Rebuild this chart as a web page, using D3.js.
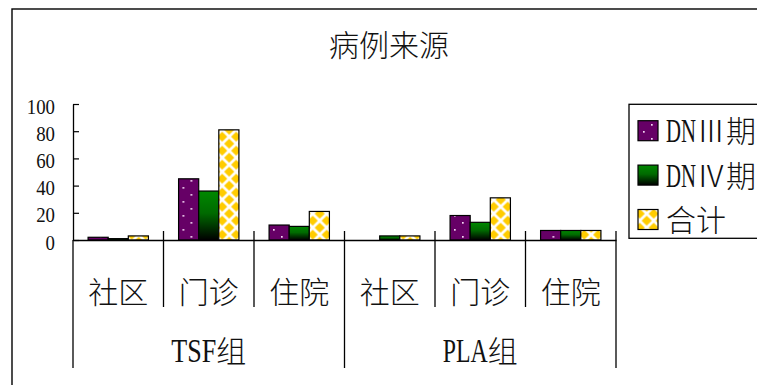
<!DOCTYPE html>
<html>
<head>
<meta charset="utf-8">
<script src="https://cdn.jsdelivr.net/npm/d3@7"></script>
<style>
  html, body { margin: 0; padding: 0; background: #fff; }
  svg { display: block; }
</style>
</head>
<body>
<svg id="chart" width="757" height="385"></svg>
<script>
// ---- data ----
const chartTitle = "病例来源";
const groups = ["TSF组", "PLA组"];
const sources = ["社区", "门诊", "住院"];
const seriesNames = ["DNⅢ期", "DNⅣ期", "合计"];
const yTicks = [0, 20, 40, 60, 80, 100];
// one value per category, ordered TSF 社区/门诊/住院 then PLA 社区/门诊/住院
const stageIII = [2, 45, 11, 0, 18, 7];
const stageIV = [1, 36, 10, 3, 13, 7];
const totals = [3, 81, 21, 3, 31, 7];

const seriesValues = [stageIII, stageIV, totals];
const categories = groups.flatMap(g => sources.map(s => g + "|" + s));
const rows = categories.map((c, i) => ({
  key: c,
  values: seriesNames.map((n, j) => ({ series: n, value: seriesValues[j][i] }))
}));

// ---- layout ----
const W = 757, H = 385;
const plot = { left: 73, right: 616, top: 104, bottom: 240 };
const CJK = "'Noto Sans CJK SC', sans-serif";
const LATIN = "'Liberation Serif', 'Times New Roman', serif";
const INK = "#111";

const svg = d3.select("#chart");
svg.append("rect").attr("width", W).attr("height", H).attr("fill", "#fff");

// ---- fills ----
const defs = svg.append("defs");

const dots = defs.append("pattern").attr("id", "fill-dots")
  .attr("patternUnits", "userSpaceOnUse").attr("width", 16).attr("height", 14)
  .attr("x", 1).attr("y", 2);
dots.append("rect").attr("width", 16).attr("height", 14).attr("fill", "#660066");
dots.append("rect").attr("x", 2).attr("y", 3).attr("width", 1.7).attr("height", 1.7).attr("fill", "#f4d8f4");
dots.append("rect").attr("x", 10).attr("y", 10).attr("width", 1.7).attr("height", 1.7).attr("fill", "#f4d8f4");

const shade = defs.append("linearGradient").attr("id", "fill-green")
  .attr("x1", 0).attr("y1", 0).attr("x2", 0).attr("y2", 1);
shade.append("stop").attr("offset", "0%").attr("stop-color", "#008800");
shade.append("stop").attr("offset", "45%").attr("stop-color", "#006a00");
shade.append("stop").attr("offset", "100%").attr("stop-color", "#000000");

const diamonds = defs.append("pattern").attr("id", "fill-diamond")
  .attr("patternUnits", "userSpaceOnUse").attr("width", 14).attr("height", 14)
  .attr("x", 9.7).attr("y", 3.7);
diamonds.append("rect").attr("width", 14).attr("height", 14).attr("fill", "#fff");
const dh = 5.1;
[[7, 7], [0, 0], [14, 0], [0, 14], [14, 14]].forEach(([cx, cy]) => {
  diamonds.append("path")
    .attr("d", `M${cx},${cy - dh}L${cx + dh},${cy}L${cx},${cy + dh}L${cx - dh},${cy}Z`)
    .attr("fill", "#ffcc00");
});

const fills = d3.scaleOrdinal().domain(seriesNames)
  .range(["url(#fill-dots)", "url(#fill-green)", "url(#fill-diamond)"]);

// Label made of full-width CJK runs and half-width Latin runs.
// Latin runs are drawn tall and squeezed to half the CJK size per character.
function mixedLabel(parent, str, x, baseline, anchor, cjkSize, latinSize) {
  const g = parent.append("g");
  const runs = str.match(/[\x00-\x7F]+|[^\x00-\x7F]+/g);
  const parts = runs.map(r => {
    const latin = /^[\x00-\x7F]+$/.test(r);
    const t = g.append("text").text(r).attr("fill", INK)
      .attr("font-family", latin ? LATIN : CJK)
      .attr("font-size", latin ? latinSize : cjkSize)
      .attr("font-weight", latin ? 400 : 300);
    const natural = t.node().getComputedTextLength();
    const width = latin ? r.length * cjkSize / 2 : natural;
    return { t, latin, natural, width };
  });
  const total = d3.sum(parts, p => p.width);
  let cursor = anchor === "middle" ? x - total / 2 : x;
  parts.forEach(p => {
    const sx = p.latin ? p.width / p.natural : 1;
    p.t.attr("transform", `translate(${cursor},${baseline}) scale(${sx},1)`);
    cursor += p.width;
  });
  return g;
}

// ---- outer frame and title ----
svg.append("rect").attr("x", 12).attr("y", 9).attr("width", 754).attr("height", 400)
  .attr("fill", "none").attr("stroke", "#000").attr("stroke-width", 1.4);

mixedLabel(svg, chartTitle, 389, 56, "middle", 30, 33);

// ---- scales ----
const x0 = d3.scaleBand().domain(categories).range([plot.left, plot.right]).padding(0);
const x1 = d3.scaleBand().domain(seriesNames).range([0, x0.bandwidth()])
  .paddingInner(0).paddingOuter(0.75);
const y = d3.scaleLinear().domain([0, 100]).range([plot.bottom, plot.top]);

// ---- bars ----
const barGroups = svg.append("g").selectAll("g").data(rows).join("g")
  .attr("transform", d => `translate(${x0(d.key)},0)`);
barGroups.selectAll("rect").data(d => d.values.filter(v => v.value > 0)).join("rect")
  .attr("x", d => x1(d.series))
  .attr("y", d => y(d.value))
  .attr("width", x1.bandwidth())
  .attr("height", d => y(0) - y(d.value))
  .attr("fill", d => fills(d.series))
  .attr("stroke", "#000").attr("stroke-width", 1.2);

// ---- y axis ----
const yAxis = svg.append("g").attr("transform", `translate(${plot.left},0)`)
  .call(d3.axisLeft(y).tickValues(yTicks).tickSizeInner(-6).tickSizeOuter(0).tickPadding(18));
yAxis.select(".domain").attr("stroke", "#000").attr("stroke-width", 1.3);
yAxis.selectAll(".tick line").attr("stroke", "#000").attr("stroke-width", 1.2);
yAxis.selectAll(".tick text")
  .attr("dy", null).attr("y", 9)
  .attr("font-family", LATIN).attr("font-size", 21).attr("fill", INK)
  .attr("textLength", d => String(d).length * 9.4).attr("lengthAdjust", "spacingAndGlyphs");

// ---- x axis: categories ----
const xAxis = svg.append("g").attr("transform", `translate(0,${plot.bottom})`)
  .call(d3.axisBottom(x0).tickSize(0).tickSizeOuter(0).tickFormat(() => ""));
xAxis.select(".domain").attr("stroke", "#000").attr("stroke-width", 1.3);
xAxis.selectAll(".tick text").remove();

const labelLayer = svg.append("g");
categories.forEach(c => {
  mixedLabel(labelLayer, c.split("|")[1], x0(c) + x0.bandwidth() / 2, 303, "middle", 30, 33);
});

// category dividers (short) and group dividers (long)
const bounds = categories.map(c => x0(c)).concat([plot.right]);
svg.append("g").selectAll("line").data(bounds).join("line")
  .attr("x1", d => d).attr("x2", d => d)
  .attr("y1", (d, i) => i === 0 ? plot.bottom : plot.bottom - 9)
  .attr("y2", (d, i) => i % sources.length === 0 ? 368 : 307)
  .attr("stroke", "#000").attr("stroke-width", 1.3);

groups.forEach((g, gi) => {
  const a = x0(categories[gi * sources.length]);
  const b = x0(categories[gi * sources.length + sources.length - 1]) + x0.bandwidth();
  mixedLabel(labelLayer, g, (a + b) / 2, 361.5, "middle", 30, 33);
});

// ---- legend ----
const legend = svg.append("g");
legend.append("rect").attr("x", 629).attr("y", 104.3).attr("width", 200).attr("height", 134)
  .attr("fill", "#fff").attr("stroke", "#000").attr("stroke-width", 1.3);
const ly = d3.scalePoint().domain(seriesNames).range([130.7, 219.5]);
const items = legend.selectAll("g.item").data(seriesNames).join("g").attr("class", "item");
items.append("rect")
  .attr("x", 638).attr("y", d => ly(d) - 10).attr("width", 20).attr("height", 20)
  .attr("fill", d => fills(d)).attr("stroke", "#000").attr("stroke-width", 1.2);
items.each(function (d) {
  mixedLabel(d3.select(this), d, 666, ly(d) + 11.5, "start", 30, 33);
});
</script>
</body>
</html>
